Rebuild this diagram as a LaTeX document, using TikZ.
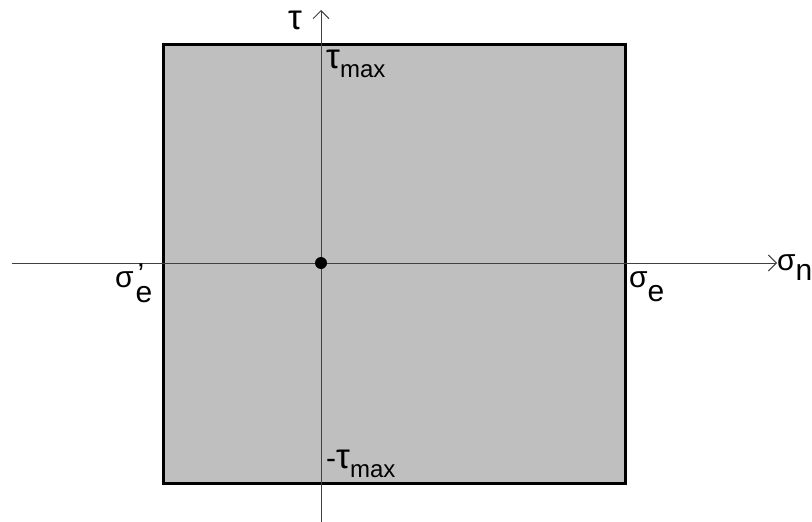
\documentclass[tikz,border=0pt]{standalone}
\usepackage{fontspec}
\setmainfont{Liberation Sans}
\usetikzlibrary{arrows.meta}
\newcommand{\bigf}{\fontsize{30}{30}\selectfont}
\newcommand{\tauf}{\fontsize{35}{35}\selectfont}
\newcommand{\subf}{\fontsize{24}{24}\selectfont}
\begin{document}
\begin{tikzpicture}[x=1pt,y=-1pt,
  axis/.style={draw=black!75, line width=1pt},
  tip/.style={-{Straight Barb[length=8pt,width=16pt,line width=1pt]}},
  lbl/.style={anchor=base west, inner sep=0pt, font=\bigf},
  regionbox/.style={draw=black, fill=black!25, line width=3pt, inner sep=0pt,
    minimum width=462pt, minimum height=439pt}]
\useasboundingbox (0,0) rectangle (812,522);
\node[regionbox] (box) at (394,263.5) {};
\coordinate (xl) at (12,263);
\coordinate (xr) at (777,263);
\coordinate (yt) at (321,10);
\coordinate (yb) at (321,522);
\draw[axis,tip] (xl) -- (xr);
\draw[axis,tip] (yb) -- (yt);
\node[circle, fill=black, inner sep=0pt, minimum size=12pt] (origin) at (321,263) {};
\node[lbl] (tau) at (288,30) {{\tauf τ}};
\node[lbl] (taumax) at (326,68) {{\tauf τ}\raisebox{-9pt}{\subf max}};
\node[lbl] (mtaumax) at (326,468) {-{\tauf τ}\raisebox{-9pt}{\subf max}};
\node[lbl] (sn) at (777,270) {σ\raisebox{-10pt}{n}};
\node[lbl] (se) at (629,287) {σ\raisebox{-14pt}{e}};
\node[lbl] (sep) at (115,287) {σ\kern2pt\raisebox{-15pt}{\shortstack[l]{\kern2pt'\\[-2pt]e}}};
\end{tikzpicture}
\end{document}
